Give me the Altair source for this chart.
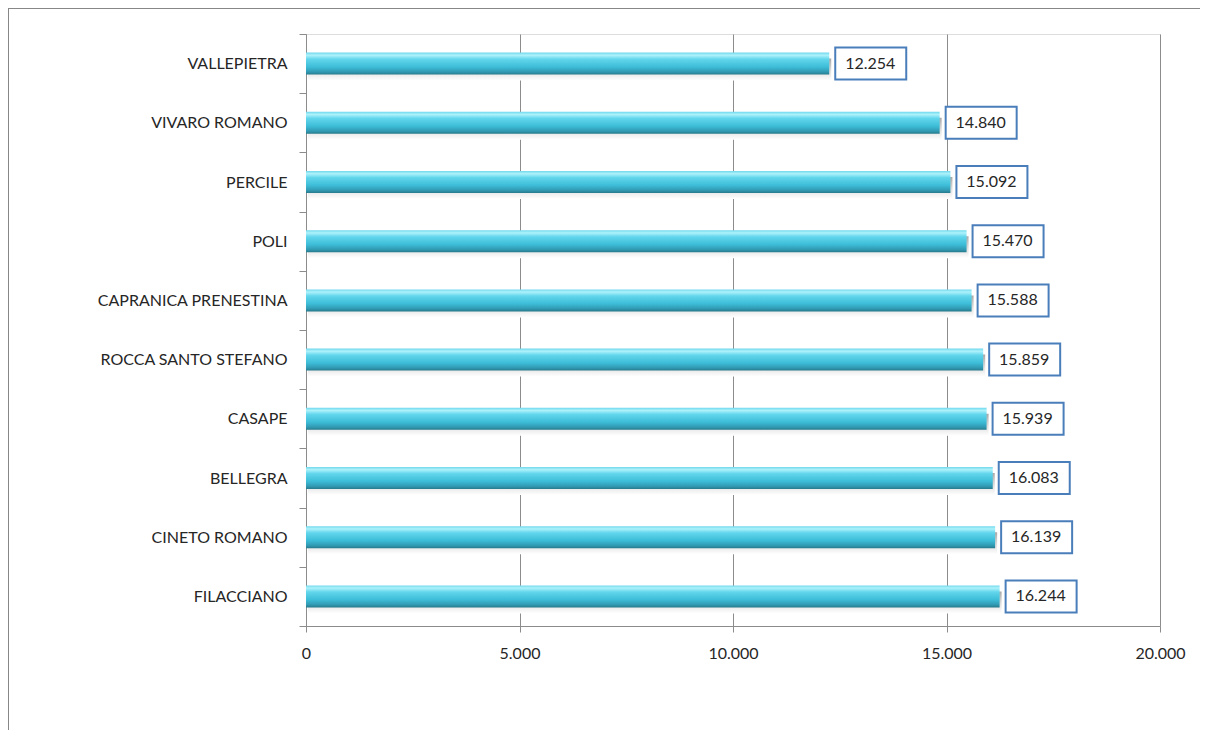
import altair as alt
import pandas as pd

comuni = ["VALLEPIETRA", "VIVARO ROMANO", "PERCILE", "POLI", "CAPRANICA PRENESTINA",
          "ROCCA SANTO STEFANO", "CASAPE", "BELLEGRA", "CINETO ROMANO", "FILACCIANO"]
valori = [12254, 14840, 15092, 15470, 15588, 15859, 15939, 16083, 16139, 16244]
etichette = ["12.254", "14.840", "15.092", "15.470", "15.588", "15.859", "15.939",
             "16.083", "16.139", "16.244"]
tick_x = [0, 5000, 10000, 15000, 20000]

df = pd.DataFrame({"comune": comuni, "valore": valori, "etichetta": etichette})

FONT = "Lato"
W, H = 854, 592

xscale = alt.Scale(domain=[0, 20000], nice=False)
yenc = alt.Y("comune:N", sort=comuni, title=None,
             scale=alt.Scale(paddingInner=0, paddingOuter=0),
             axis=alt.Axis(labelFont=FONT, labelFontSize=16, labelColor="#262626",
                           labelPadding=12, tickSize=7, tickBand="extent", labelLimit=400,
                           domainColor="#8c8c8c", tickColor="#8c8c8c", grid=False))
xenc = alt.X("valore:Q", scale=xscale, title=None,
             axis=alt.Axis(values=tick_x, labelFont=FONT, labelFontSize=16,
                           labelColor="#262626", labelPadding=13, tickSize=6,
                           labelFlush=False,
                           labelExpr="replace(format(datum.value, ',d'), ',', '.')",
                           domainColor="#8c8c8c", tickColor="#8c8c8c",
                           grid=True, gridColor="#8c8c8c", gridWidth=1))

bar_grad = alt.Gradient(
    gradient="linear", x1=0, x2=0, y1=0, y2=1,
    stops=[alt.GradientStop(offset=0.0, color="#6fd8ec"),
           alt.GradientStop(offset=0.12, color="#aef2fb"),
           alt.GradientStop(offset=0.3, color="#62d6ec"),
           alt.GradientStop(offset=0.65, color="#3dbdd8"),
           alt.GradientStop(offset=0.88, color="#3199b2"),
           alt.GradientStop(offset=1.0, color="#277a8c")])
shadow_grad = alt.Gradient(
    gradient="linear", x1=0, x2=0, y1=0, y2=1,
    stops=[alt.GradientStop(offset=0.0, color="#a8a8a8"),
           alt.GradientStop(offset=0.6, color="#e2e2e2"),
           alt.GradientStop(offset=1.0, color="#ffffff")])

base = alt.Chart(df)

shadow = base.mark_bar(size=22, color=shadow_grad, yOffset=6, xOffset=2).encode(
    x=xenc, y=yenc)
bars = base.mark_bar(size=22, color=bar_grad).encode(x=xenc, y=yenc)
boxes = base.mark_bar(size=32, fill="white", stroke="#4a7ebb", strokeWidth=2,
                      xOffset=6, x2Offset=77).encode(
    x=alt.X("valore:Q", scale=xscale), x2="valore:Q", y=alt.Y("comune:N", sort=comuni))
texts = base.mark_text(font=FONT, fontSize=16, color="#262626", align="center",
                       baseline="middle", dx=41).encode(
    x=alt.X("valore:Q", scale=xscale), y=alt.Y("comune:N", sort=comuni),
    text="etichetta:N")

frame_top = alt.Chart(df).mark_rule(color="#878787", strokeWidth=2).encode(
    x=alt.value(-298), x2=alt.value(W + 60), y=alt.value(-26))
frame_left = alt.Chart(df).mark_rule(color="#878787", strokeWidth=2).encode(
    x=alt.value(-298), y=alt.value(-26), y2=alt.value(H + 130))

chart = alt.layer(shadow, bars, boxes, texts, frame_top, frame_left).properties(
    width=W, height=H,
    autosize=alt.AutoSizeParams(type="none"),
    padding={"left": 298, "top": 26, "right": 40, "bottom": 104},
).configure_view(stroke=None).configure(background="white")

chart.save("out.html", embed_options={"renderer": "svg", "actions": False})
